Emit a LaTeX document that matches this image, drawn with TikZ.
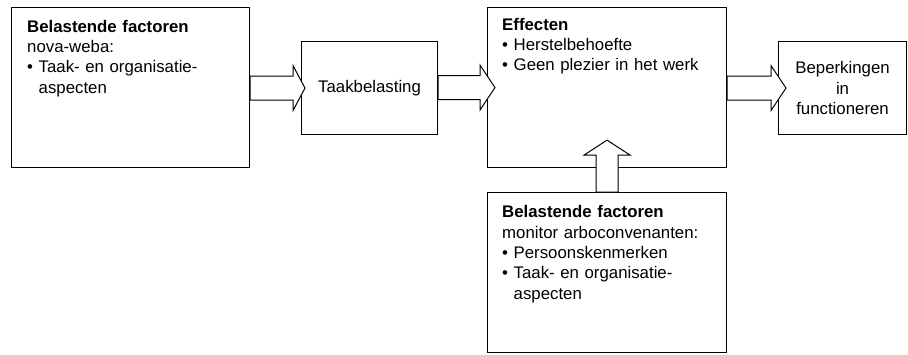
\documentclass[tikz,border=0pt]{standalone}
\usepackage{fontspec}
\setmainfont{Liberation Sans}
\usetikzlibrary{calc}
\newcommand\bul{\makebox[11.5pt][l]{\textbullet}}
\newcommand\hangsp{\hspace*{11.5pt}}
\newcommand\harrow[3]{%
  \draw[barrow] let \p1=(#1), \p2=(#2) in
  (\x1,\y2+12pt) -- (\x2-#3,\y2+12pt) -- (\x2-#3,\y2+22.5pt) -- (\x2,\y2)
  -- (\x2-#3,\y2-22.5pt) -- (\x2-#3,\y2-12pt) -- (\x1,\y2-12pt) -- cycle;}
\begin{document}
\begin{tikzpicture}[x=1pt,y=-1pt,
  box/.style={draw, line width=1.1pt, fill=white, inner sep=0pt, anchor=north west,
    font=\fontsize{16.8}{20.4}\selectfont, align=center},
  txt/.style={anchor=base west, inner sep=0pt, text width=220pt, align=left,
    font=\fontsize{16.8}{20.4}\selectfont},
  barrow/.style={draw, line width=1pt, fill=white, line join=miter}]
\useasboundingbox (0,0) rectangle (908,354);
\node[box, minimum width=238pt, minimum height=160pt] (b1) at (11,7) {};
\node[box, minimum width=136pt, minimum height=93pt] (b2) at (301,41) {Taakbelasting};
\node[box, minimum width=239pt, minimum height=160pt] (b3) at (487,7) {};
\node[box, minimum width=128pt, minimum height=93pt] (b4) at (778,41) {Beperkingen\\in\\functioneren};
\node[box, minimum width=239pt, minimum height=160pt] (b5) at (487,192) {};

\node[txt] (t1) at ($(b1.north west)+(16,25)$)
  {\textbf{Belastende factoren}\\nova-weba:\\\bul Taak- en organisatie-\\\hangsp aspecten};
\node[txt] (t3) at ($(b3.north west)+(15,23)$)
  {\textbf{Effecten}\\\bul Herstelbehoefte\\\bul Geen plezier in het werk};
\node[txt] (t5) at ($(b5.north west)+(15,25.7)$)
  {\textbf{Belastende factoren}\\monitor arboconvenanten:\\\bul Persoonskenmerken\\\bul Taak- en organisatie-\\\hangsp aspecten};

\harrow{b1.east}{$(b2.west)+(4,0)$}{12pt}
\harrow{b2.east}{$(b3.west)+(8,0)$}{15pt}
\harrow{b3.east}{$(b4.west)+(8,0)$}{15pt}
\draw[barrow] let \p1=(b5.north), \p2=($(b3.south)+(0,-28)$) in
  (\x2-11pt,\y1) -- (\x2-11pt,\y2-15pt) -- (\x2-23pt,\y2-15pt) -- (\x2,\y2)
  -- (\x2+23pt,\y2-15pt) -- (\x2+11pt,\y2-15pt) -- (\x2+11pt,\y1) -- cycle;
\end{tikzpicture}
\end{document}
